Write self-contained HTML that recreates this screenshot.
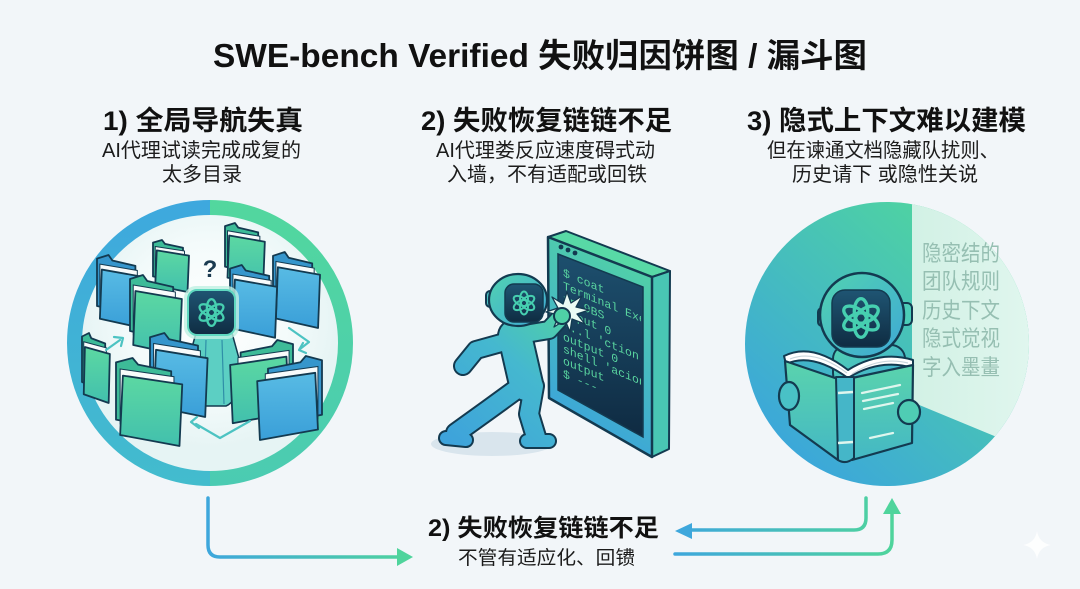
<!DOCTYPE html>
<html><head><meta charset="utf-8">
<style>
html,body{margin:0;padding:0;background:#f2f6f9;}
svg{display:block}
</style></head>
<body>
<svg width="1080" height="589" viewBox="0 0 1080 589" xmlns="http://www.w3.org/2000/svg" font-family="'Liberation Sans','Noto Sans CJK SC',sans-serif">
<defs>
  <linearGradient id="gFold" x1="0" y1="0" x2="0" y2="1"><stop offset="0" stop-color="#5cd8a2"/><stop offset="1" stop-color="#42c0ad"/></linearGradient>
  <linearGradient id="bFold" x1="0" y1="0" x2="0" y2="1"><stop offset="0" stop-color="#58bbe4"/><stop offset="1" stop-color="#3a9fd8"/></linearGradient>
  <linearGradient id="ringL" x1="0" y1="200" x2="0" y2="486" gradientUnits="userSpaceOnUse"><stop offset="0" stop-color="#3ea8de"/><stop offset="1" stop-color="#43bccd"/></linearGradient>
  <linearGradient id="ringR" x1="0" y1="200" x2="0" y2="486" gradientUnits="userSpaceOnUse"><stop offset="0" stop-color="#52d79e"/><stop offset="1" stop-color="#4bcbb2"/></linearGradient>
  <radialGradient id="glow" cx="210" cy="320" r="128" gradientUnits="userSpaceOnUse"><stop offset="0" stop-color="#ffffff"/><stop offset="0.6" stop-color="#f4fbfb"/><stop offset="1" stop-color="#e6f4f4"/></radialGradient>
  <linearGradient id="icon" x1="0" y1="0" x2="0" y2="1"><stop offset="0" stop-color="#1f5573"/><stop offset="1" stop-color="#0f2c42"/></linearGradient>
  <linearGradient id="rc" x1="770" y1="470" x2="990" y2="220" gradientUnits="userSpaceOnUse"><stop offset="0" stop-color="#3aa3df"/><stop offset="1" stop-color="#51d89b"/></linearGradient>
  <linearGradient id="wedge" x1="912" y1="0" x2="1030" y2="0" gradientUnits="userSpaceOnUse"><stop offset="0" stop-color="#d2f1e5"/><stop offset="1" stop-color="#e0f6ee"/></linearGradient>
  <linearGradient id="fig" x1="450" y1="440" x2="570" y2="300" gradientUnits="userSpaceOnUse"><stop offset="0" stop-color="#3ea3db"/><stop offset="0.55" stop-color="#45b8cf"/><stop offset="1" stop-color="#52d59d"/></linearGradient>
  <linearGradient id="face" x1="550" y1="420" x2="660" y2="250" gradientUnits="userSpaceOnUse"><stop offset="0" stop-color="#3ba3dc"/><stop offset="1" stop-color="#54d6a0"/></linearGradient>
  <linearGradient id="screen" x1="0" y1="0" x2="0" y2="1"><stop offset="0" stop-color="#1d4f6e"/><stop offset="1" stop-color="#0f2b42"/></linearGradient>
  <linearGradient id="robo" x1="0" y1="0" x2="1" y2="1"><stop offset="0" stop-color="#52d3b0"/><stop offset="1" stop-color="#3ea8d6"/></linearGradient>
  <linearGradient id="book" x1="0" y1="0" x2="0" y2="1"><stop offset="0" stop-color="#5ad3ad"/><stop offset="1" stop-color="#44b8c4"/></linearGradient>
  <linearGradient id="arL" x1="208" y1="0" x2="413" y2="0" gradientUnits="userSpaceOnUse"><stop offset="0" stop-color="#3ea7dc"/><stop offset="1" stop-color="#4fd49c"/></linearGradient>
  <linearGradient id="arR" x1="675" y1="0" x2="892" y2="0" gradientUnits="userSpaceOnUse"><stop offset="0" stop-color="#3ea7dc"/><stop offset="1" stop-color="#4fd49c"/></linearGradient>
  <clipPath id="rcClip"><circle cx="887" cy="344" r="142"/></clipPath>
  <clipPath id="scrClip"><polygon points="560,256 641,289 641,435 560,389"/></clipPath>

  <g id="logo" fill="none" stroke="#46cfb0" stroke-width="1.6">
    <ellipse cx="0" cy="-3.2" rx="3.2" ry="6" transform="rotate(0)"/>
    <ellipse cx="0" cy="-3.2" rx="3.2" ry="6" transform="rotate(60)"/>
    <ellipse cx="0" cy="-3.2" rx="3.2" ry="6" transform="rotate(120)"/>
    <ellipse cx="0" cy="-3.2" rx="3.2" ry="6" transform="rotate(180)"/>
    <ellipse cx="0" cy="-3.2" rx="3.2" ry="6" transform="rotate(240)"/>
    <ellipse cx="0" cy="-3.2" rx="3.2" ry="6" transform="rotate(300)"/>
  </g>

  <g id="fG">
    <path d="M0,4 L12,0 L16,6 L40,12 L40,66 L0,56 Z" fill="#3dbb98" stroke="#133a50" stroke-width="1.8" stroke-linejoin="round" vector-effect="non-scaling-stroke"/>
    <path d="M3,10 L42,17 L42,68 L3,60 Z" fill="#f8fbfb" stroke="#133a50" stroke-width="1" vector-effect="non-scaling-stroke"/>
    <path d="M5,16 L48,24 L46,80 L3,70 Z" fill="url(#gFold)" stroke="#133a50" stroke-width="1.8" stroke-linejoin="round" vector-effect="non-scaling-stroke"/>
  </g>
  <g id="fB">
    <path d="M0,4 L12,0 L16,6 L40,12 L40,66 L0,56 Z" fill="#3696cc" stroke="#133a50" stroke-width="1.8" stroke-linejoin="round" vector-effect="non-scaling-stroke"/>
    <path d="M3,10 L42,17 L42,68 L3,60 Z" fill="#f8fbfb" stroke="#133a50" stroke-width="1" vector-effect="non-scaling-stroke"/>
    <path d="M5,16 L48,24 L46,80 L3,70 Z" fill="url(#bFold)" stroke="#133a50" stroke-width="1.8" stroke-linejoin="round" vector-effect="non-scaling-stroke"/>
  </g>
</defs>

<rect width="1080" height="589" fill="#f2f6f9"/>

<!-- Titles -->
<text x="213" y="67" font-size="33" font-weight="700" fill="#111" textLength="654" lengthAdjust="spacingAndGlyphs">SWE-bench Verified 失败归因饼图 / 漏斗图</text>

<text x="103" y="130" font-size="27" font-weight="700" fill="#111" textLength="200" lengthAdjust="spacingAndGlyphs">1) 全局导航失真</text>
<text x="421" y="130" font-size="27" font-weight="700" fill="#111" textLength="251" lengthAdjust="spacingAndGlyphs">2) 失败恢复链链不足</text>
<text x="747" y="130" font-size="27" font-weight="700" fill="#111" textLength="279" lengthAdjust="spacingAndGlyphs">3) 隐式上下文难以建模</text>

<g font-size="20" fill="#1c1c1c">
<text x="102" y="157" textLength="199" lengthAdjust="spacingAndGlyphs">AI代理试读完成成复的</text>
<text x="162" y="181" textLength="80" lengthAdjust="spacingAndGlyphs">太多目录</text>
<text x="436" y="157" textLength="219" lengthAdjust="spacingAndGlyphs">AI代理娄反应速度碍式动</text>
<text x="447" y="181" textLength="200" lengthAdjust="spacingAndGlyphs">入墙，不有适配或回铁</text>
<text x="767" y="157" textLength="232" lengthAdjust="spacingAndGlyphs">但在谏通文档隐藏队扰则、</text>
<text x="792" y="181" textLength="186" lengthAdjust="spacingAndGlyphs">历史请下 或隐性关说</text>
</g>

<!-- LEFT CIRCLE -->
<circle cx="210" cy="343" r="128" fill="url(#glow)"/>
<path d="M210,207.5 A135.5,135.5 0 0 0 210,478.5" fill="none" stroke="url(#ringL)" stroke-width="15"/>
<path d="M210,207.5 A135.5,135.5 0 0 1 210,478.5" fill="none" stroke="url(#ringR)" stroke-width="15"/>

<!-- back folders -->
<use href="#fG" transform="translate(153,240) scale(0.75,0.65)"/>
<use href="#fG" transform="translate(225,223) scale(0.83,0.78)"/>
<use href="#fB" transform="translate(97,255) scale(0.96,0.91)"/>
<use href="#fB" transform="translate(273,252) scale(0.98,0.95)"/>
<use href="#fB" transform="translate(230,265) scale(0.98,0.91)"/>
<use href="#fG" transform="translate(130,275) scale(1.08,1.0)"/>

<!-- center body -->
<path d="M196,333 L188,362 Q189,400 204,406 L226,406 Q241,400 240,362 L232,333 Z" fill="#5ccfc3" stroke="#133a50" stroke-width="1.5"/>
<path d="M206,340 L204,404 M222,340 L224,404" stroke="#2f8fa8" stroke-width="1.2" fill="none"/>

<!-- icon -->
<rect x="184" y="286" width="55" height="53" rx="12" fill="#bff0e2" opacity="0.8"/>
<rect x="188" y="290" width="47" height="45" rx="9" fill="url(#icon)" stroke="#5fd8c0" stroke-width="2"/>
<use href="#logo" transform="translate(211.5,312.5) scale(1.45)"/>
<text x="210" y="277" font-size="24" font-weight="700" fill="#1a3a50" text-anchor="middle">?</text>

<!-- front folders -->
<use href="#fG" transform="translate(82,333) scale(0.58,0.875)"/>
<use href="#fB" transform="translate(150,333) scale(1.2,1.05)"/>
<use href="#fG" transform="translate(293,340) scale(-1.31,1.04)"/>
<use href="#fG" transform="translate(116,358) scale(1.38,1.1)"/>
<use href="#fB" transform="translate(322,356) scale(-1.35,1.05)"/>

<!-- small arrows inside left circle -->
<g stroke="#4cc3c2" stroke-width="2.2" fill="none" stroke-linecap="round" stroke-linejoin="round">
  <path d="M106,350 L120,340"/>
  <path d="M114,337 L123,338 L121,346"/>
  <path d="M289,328 L309,342 L300,349"/>
  <path d="M303,343 L299,350 L306,353"/>
  <path d="M250,421 L220,438 L196,424"/>
  <path d="M197,417 L191,422 L199,428"/>
</g>

<!-- MIDDLE: terminal -->
<ellipse cx="492" cy="444" rx="61" ry="12" fill="#d9e5ed"/>
<polygon points="548,237 566,231 670,271 652,277" fill="#58d9a6" stroke="#133a50" stroke-width="2" stroke-linejoin="round"/>
<polygon points="652,277 670,271 669,449 652,457" fill="#49c6b4" stroke="#133a50" stroke-width="2" stroke-linejoin="round"/>
<polygon points="548,237 652,277 652,457 549,398" fill="url(#face)" stroke="#133a50" stroke-width="2.5" stroke-linejoin="round"/>
<polygon points="558,254 643,287 643,437 558,390" fill="url(#screen)" stroke="#133a50" stroke-width="1.5"/>
<circle cx="561" cy="247" r="2.4" fill="#133a50"/>
<circle cx="568" cy="250" r="2.4" fill="#133a50"/>
<circle cx="575" cy="253" r="2.4" fill="#133a50"/>
<g clip-path="url(#scrClip)">
<g transform="matrix(1,0.42,0,1,563,0)" font-family="'Liberation Mono','DejaVu Sans Mono',monospace" font-size="11.5" fill="#5ad6a0">
  <text x="0" y="276">$ coat</text>
  <text x="0" y="289">Terminal Exe-</text>
  <text x="0" y="302">  xn  9BS</text>
  <text x="0" y="315">  ~tput 0</text>
  <text x="0" y="328">~..l 'ction'</text>
  <text x="0" y="340">output 0</text>
  <text x="0" y="352">shell 'acion</text>
  <text x="0" y="364">output</text>
  <text x="0" y="377">$ ---</text>
</g>
</g>

<!-- figure -->
<g fill="none" stroke-linecap="round" stroke-linejoin="round">
  <g stroke="#133a50">
    <path d="M512,340 L476,350 L463,366" stroke-width="20"/>
    <path d="M521,386 L488,410 L456,433" stroke-width="22"/>
    <path d="M446,438 L466,440" stroke-width="16"/>
    <path d="M515,336 L526,384" stroke-width="36"/>
    <path d="M534,386 L529,414 L536,437" stroke-width="22"/>
    <path d="M527,441 L549,441" stroke-width="16"/>
    <path d="M525,334 L549,330 L562,316" stroke-width="20"/>
  </g>
  <g stroke="url(#fig)">
    <path d="M512,340 L476,350 L463,366" stroke-width="16"/>
    <path d="M521,386 L488,410 L456,433" stroke-width="18"/>
    <path d="M446,438 L466,440" stroke-width="12"/>
    <path d="M515,336 L526,384" stroke-width="32"/>
    <path d="M534,386 L529,414 L536,437" stroke-width="18"/>
    <path d="M527,441 L549,441" stroke-width="12"/>
    <path d="M525,334 L549,330 L562,316" stroke-width="16"/>
  </g>
</g>
<rect x="486" y="291" width="12" height="16" rx="4" fill="#4cc3c4" stroke="#133a50" stroke-width="2"/>
<ellipse cx="518" cy="300" rx="29" ry="26" fill="url(#robo)" stroke="#133a50" stroke-width="2.2"/>
<rect x="505" y="284" width="38" height="38" rx="9" fill="url(#icon)" stroke="#133a50" stroke-width="1.5"/>
<use href="#logo" transform="translate(524,303) scale(1.25)"/>
<!-- star burst -->
<polygon points="567,292 571,303 582,296 576,307 589,310 577,314 585,324 572,319 570,332 565,320 554,327 559,315 546,312 558,308 552,297 563,304" fill="#eafbf4" stroke="#133a50" stroke-width="1.3" stroke-linejoin="round"/>
<circle cx="562" cy="316" r="8" fill="#4fd0a6" stroke="#133a50" stroke-width="2"/>

<!-- RIGHT CIRCLE -->
<circle cx="887" cy="344" r="142" fill="url(#rc)"/>
<polygon points="912,180 1050,180 1050,459 912,402" fill="url(#wedge)" clip-path="url(#rcClip)"/>
<g font-size="22" fill="#96bfb2">
  <text x="922" y="261" textLength="78" lengthAdjust="spacingAndGlyphs">隐密结的</text>
  <text x="922" y="289" textLength="78" lengthAdjust="spacingAndGlyphs">团队规则</text>
  <text x="922" y="318" textLength="78" lengthAdjust="spacingAndGlyphs">历史下文</text>
  <text x="922" y="346" textLength="78" lengthAdjust="spacingAndGlyphs">隐式觉视</text>
  <text x="922" y="375" textLength="78" lengthAdjust="spacingAndGlyphs">字入墨畫</text>
</g>

<!-- robot -->
<rect x="833" y="345" width="72" height="42" rx="14" fill="url(#robo)" stroke="#133a50" stroke-width="2"/>
<rect x="818" y="308" width="10" height="18" rx="4" fill="#47c2c5" stroke="#133a50" stroke-width="2"/>
<rect x="898" y="303" width="14" height="22" rx="5" fill="#4ccdb8" stroke="#133a50" stroke-width="2"/>
<circle cx="862" cy="315" r="42" fill="url(#robo)" stroke="#133a50" stroke-width="2.5"/>
<rect x="832" y="290" width="58" height="57" rx="13" fill="url(#icon)" stroke="#133a50" stroke-width="1.5"/>
<use href="#logo" transform="translate(861,318) scale(2.1)"/>

<!-- book -->
<path d="M784,356 Q812,342 848,370 Q880,350 913,360 L913,368 Q880,358 848,378 Q812,352 786,364 Z" fill="#ffffff" stroke="#133a50" stroke-width="2" stroke-linejoin="round"/>
<path d="M790,359 Q815,349 847,373 M852,374 Q880,356 908,363" stroke="#c9d6dc" stroke-width="1.2" fill="none"/>
<polygon points="785,361 838,379 838,460 790,425" fill="url(#book)" stroke="#133a50" stroke-width="2.2" stroke-linejoin="round"/>
<polygon points="852,378 913,365 912,443 852,460" fill="url(#book)" stroke="#133a50" stroke-width="2.2" stroke-linejoin="round"/>
<path d="M836,377 L854,377 L854,458 Q846,465 838,460 Z" fill="#45b6c8" stroke="#133a50" stroke-width="2" stroke-linejoin="round"/>
<path d="M838,393 L853,392 M838,443 L853,442" stroke="#dff6ee" stroke-width="2.5"/>
<g stroke="#dff6ee" stroke-width="2.2" stroke-linecap="round">
  <path d="M862,393 L900,385"/>
  <path d="M863,401 L898,394"/>
  <path d="M864,409 L893,403"/>
  <path d="M870,438 L893,433"/>
</g>
<ellipse cx="789" cy="396" rx="10" ry="14" fill="#49c1c6" stroke="#133a50" stroke-width="2.2"/>
<ellipse cx="909" cy="412" rx="11" ry="12" fill="#4fcdb4" stroke="#133a50" stroke-width="2.2"/>

<!-- BOTTOM ARROWS -->
<path d="M208,498 V545 Q208,557 220,557 H400" fill="none" stroke="url(#arL)" stroke-width="3.5" stroke-linecap="round"/>
<polygon points="397,548 413,557 397,566" fill="#4fd49c"/>

<path d="M866,498 V518 Q866,530 854,530 H690" fill="none" stroke="url(#arR)" stroke-width="3.5" stroke-linecap="round"/>
<polygon points="692,523 675,531 692,539" fill="#3ea7dc"/>

<path d="M675,554 H878 Q892,554 892,540 V512" fill="none" stroke="url(#arR)" stroke-width="3.5" stroke-linecap="round"/>
<polygon points="883,514 892,498 901,514" fill="#4fd49c"/>

<text x="428" y="536" font-size="24" font-weight="700" fill="#111" textLength="231" lengthAdjust="spacingAndGlyphs">2) 失败恢复链链不足</text>
<text x="458" y="564" font-size="19" fill="#1c1c1c" textLength="177" lengthAdjust="spacingAndGlyphs">不管有适应化、回镄</text>

<!-- sparkle -->
<path d="M1037,531 Q1039,543 1051,545 Q1039,547 1037,559 Q1035,547 1023,545 Q1035,543 1037,531 Z" fill="#ffffff" opacity="0.85"/>
</svg>
</body></html>
